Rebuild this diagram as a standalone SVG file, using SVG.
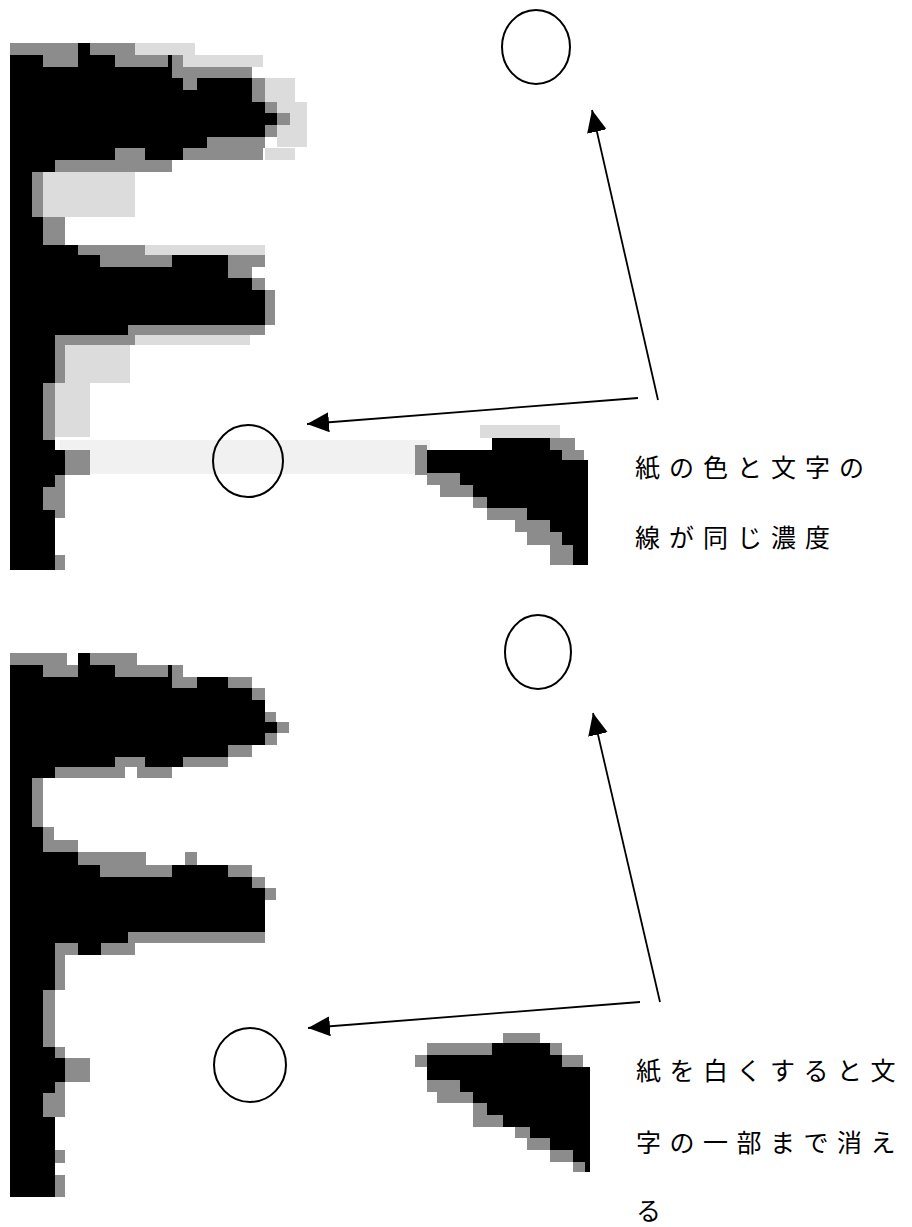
<svg xmlns="http://www.w3.org/2000/svg" width="912" height="1227" viewBox="0 0 912 1227">
<style>
.blk{fill:#000}
.g{fill:#8c8c8c}
.lg{fill:#dcdcdc}
.vl{fill:#f1f1f1}
.circ{fill:none;stroke:#000;stroke-width:2}
.arr{fill:none;stroke:#000;stroke-width:1.8}
.lbl{font-family:"Noto Sans CJK JP","Noto Sans CJK SC",sans-serif;font-size:25px;letter-spacing:9px;fill:#000}
.lbl2{font-family:"Noto Sans CJK JP","Noto Sans CJK SC",sans-serif;font-size:25px;letter-spacing:8.5px;fill:#000}
</style>
<defs>
<marker id="ah" markerUnits="userSpaceOnUse" viewBox="0 0 22 20" refX="22" refY="10" markerWidth="22" markerHeight="20" orient="auto">
<path d="M0,0 L22,10 L0,20 Z" fill="#000"/>
</marker>
</defs>
<rect width="912" height="1227" fill="#fff"/>

<g id="panel-top-letter">
<rect class="vl" x="60" y="440" width="370" height="34"/>
<rect class="lg" x="135" y="43" width="60" height="12"/>
<rect class="lg" x="183" y="55" width="80" height="12"/>
<rect class="lg" x="265" y="78" width="30" height="24"/>
<rect class="lg" x="277" y="102" width="30" height="45"/>
<rect class="lg" x="265" y="148" width="30" height="12"/>
<rect class="lg" x="43" y="172" width="92" height="45"/>
<rect class="lg" x="65" y="345" width="65" height="38"/>
<rect class="lg" x="55" y="383" width="35" height="54"/>
<rect class="lg" x="145" y="245" width="120" height="10"/>
<rect class="lg" x="135" y="335" width="115" height="10"/>
<path class="blk" d="M10,55 H172 V78 H252 V102 H265 V113 H277 V125 H265 V137 H252 V148 H183 V160 H55 V172 H32 V217 H43 V245 H78 V255 H100 V267 H228 V278 H252 V290 H265 V325 H128 V335 H55 V383 H43 V450 H65 V475 H55 V487 H43 V510 H55 V570 H10 Z"/>
<rect class="blk" x="78" y="43" width="12" height="12"/>
<rect class="blk" x="172" y="255" width="56" height="12"/>
<rect class="g" x="10" y="43" width="68" height="12"/>
<rect class="g" x="90" y="43" width="45" height="12"/>
<rect class="g" x="43" y="55" width="35" height="12"/>
<rect class="g" x="115" y="55" width="53" height="12"/>
<rect class="g" x="172" y="55" width="11" height="23"/>
<rect class="g" x="183" y="67" width="69" height="11"/>
<rect class="g" x="183" y="78" width="14" height="12"/>
<rect class="g" x="252" y="78" width="13" height="24"/>
<rect class="g" x="265" y="102" width="12" height="11"/>
<rect class="g" x="277" y="113" width="13" height="12"/>
<rect class="g" x="265" y="125" width="12" height="12"/>
<rect class="g" x="207" y="137" width="58" height="11"/>
<rect class="g" x="115" y="148" width="30" height="12"/>
<rect class="g" x="183" y="148" width="80" height="12"/>
<rect class="g" x="55" y="160" width="117" height="12"/>
<rect class="g" x="32" y="172" width="11" height="45"/>
<rect class="g" x="43" y="217" width="22" height="28"/>
<rect class="g" x="78" y="245" width="67" height="10"/>
<rect class="g" x="100" y="255" width="72" height="12"/>
<rect class="g" x="228" y="255" width="37" height="12"/>
<rect class="g" x="228" y="267" width="24" height="11"/>
<rect class="g" x="252" y="278" width="13" height="12"/>
<rect class="g" x="265" y="290" width="10" height="35"/>
<rect class="g" x="128" y="325" width="137" height="10"/>
<rect class="g" x="55" y="335" width="80" height="10"/>
<rect class="g" x="55" y="345" width="10" height="38"/>
<rect class="g" x="43" y="383" width="12" height="57"/>
<rect class="blk" x="43" y="440" width="12" height="10"/>
<rect class="g" x="65" y="450" width="25" height="25"/>
<rect class="g" x="55" y="475" width="10" height="12"/>
<rect class="g" x="43" y="487" width="22" height="23"/>
<rect class="g" x="55" y="510" width="10" height="8"/>
<rect class="g" x="55" y="555" width="10" height="15"/>
</g>

<g id="panel-top-triangle">
<rect class="lg" x="480" y="425" width="80" height="13"/>
<path class="blk" d="M492,438 H550 V450 H562 V460 H588 V565 H573 V545 H562 V532 H550 V520 H527 V508 H487 V497 H473 V485 H460 V473 H427 V450 H492 Z"/>
<rect class="g" x="550" y="438" width="25" height="12"/>
<rect class="g" x="562" y="450" width="22" height="10"/>
<rect class="g" x="415" y="445" width="12" height="30"/>
<rect class="g" x="427" y="473" width="33" height="12"/>
<rect class="g" x="440" y="485" width="33" height="12"/>
<rect class="g" x="473" y="497" width="14" height="11"/>
<rect class="g" x="487" y="508" width="40" height="12"/>
<rect class="g" x="515" y="520" width="35" height="12"/>
<rect class="g" x="527" y="532" width="35" height="13"/>
<rect class="g" x="550" y="545" width="23" height="20"/>
</g>

<g id="panel-bottom-letter">
<path class="blk" d="M10,665 H172 V677 H172 V688 H252 V700 H265 V722 H277 V733 H265 V745 H252 V757 H228 V767 H55 V778 H32 V827 H43 V852 H78 V865 H228 V877 H252 V888 H265 V932 H128 V943 H55 V990 H43 V1047 H55 V1058 H65 V1082 H55 V1093 H43 V1117 H55 V1197 H10 Z"/>
<rect class="blk" x="78" y="653" width="12" height="12"/>
<rect class="blk" x="197" y="677" width="31" height="11"/>
<rect class="g" x="10" y="653" width="57" height="12"/>
<rect class="g" x="90" y="653" width="47" height="12"/>
<rect class="g" x="43" y="665" width="35" height="12"/>
<rect class="g" x="115" y="665" width="53" height="12"/>
<rect class="g" x="172" y="665" width="11" height="12"/>
<rect class="g" x="172" y="677" width="25" height="11"/>
<rect class="g" x="228" y="677" width="24" height="11"/>
<rect class="g" x="252" y="688" width="13" height="12"/>
<rect class="g" x="265" y="712" width="11" height="10"/>
<rect class="g" x="277" y="722" width="12" height="11"/>
<rect class="g" x="265" y="733" width="12" height="12"/>
<rect class="g" x="228" y="745" width="24" height="12"/>
<rect class="g" x="115" y="757" width="30" height="10"/>
<rect class="g" x="183" y="757" width="45" height="10"/>
<rect class="g" x="55" y="767" width="23" height="11"/>
<rect class="g" x="78" y="767" width="47" height="11"/>
<rect class="g" x="137" y="767" width="35" height="11"/>
<rect class="g" x="32" y="778" width="11" height="49"/>
<rect class="g" x="43" y="827" width="11" height="13"/>
<rect class="g" x="43" y="840" width="22" height="12"/>
<rect class="g" x="65" y="840" width="13" height="12"/>
<rect class="g" x="78" y="852" width="68" height="13"/>
<rect class="g" x="185" y="852" width="12" height="13"/>
<rect class="g" x="100" y="865" width="72" height="12"/>
<rect class="g" x="228" y="865" width="24" height="12"/>
<rect class="g" x="252" y="877" width="13" height="11"/>
<rect class="g" x="265" y="888" width="11" height="12"/>
<rect class="g" x="128" y="932" width="137" height="11"/>
<rect class="g" x="55" y="943" width="80" height="12"/>
<rect class="blk" x="78" y="943" width="23" height="12"/>
<rect class="g" x="55" y="955" width="10" height="35"/>
<rect class="g" x="43" y="990" width="12" height="57"/>
<rect class="g" x="55" y="1047" width="10" height="11"/>
<rect class="g" x="65" y="1058" width="25" height="24"/>
<rect class="g" x="55" y="1082" width="10" height="11"/>
<rect class="g" x="43" y="1093" width="22" height="24"/>
<rect class="g" x="55" y="1150" width="10" height="13"/>
<rect class="g" x="55" y="1175" width="10" height="22"/>
</g>

<g id="panel-bottom-triangle">
<path class="blk" d="M492,1043 H550 V1055 H562 V1067 H590 V1172 H585 V1162 H573 V1150 H550 V1138 H530 V1127 H503 V1115 H487 V1103 H473 V1092 H460 V1080 H427 V1055 H492 Z"/>
<rect class="g" x="503" y="1033" width="37" height="10"/>
<rect class="g" x="427" y="1043" width="65" height="12"/>
<rect class="g" x="550" y="1043" width="12" height="12"/>
<rect class="g" x="562" y="1055" width="21" height="12"/>
<rect class="g" x="415" y="1055" width="12" height="12"/>
<rect class="g" x="427" y="1080" width="33" height="12"/>
<rect class="g" x="437" y="1092" width="36" height="11"/>
<rect class="g" x="473" y="1103" width="14" height="12"/>
<rect class="g" x="473" y="1115" width="30" height="12"/>
<rect class="g" x="515" y="1127" width="15" height="11"/>
<rect class="g" x="527" y="1138" width="23" height="12"/>
<rect class="g" x="550" y="1150" width="23" height="12"/>
<rect class="g" x="573" y="1162" width="12" height="10"/>
</g>

<g id="circle-top-1"><ellipse class="circ" cx="536" cy="47" rx="34" ry="37"/></g>
<g id="circle-top-2"><ellipse class="circ" cx="248" cy="461" rx="35" ry="36"/></g>
<g id="circle-bottom-1"><ellipse class="circ" cx="538" cy="652" rx="33" ry="37"/></g>
<g id="circle-bottom-2"><ellipse class="circ" cx="250" cy="1065" rx="36" ry="37"/></g>

<g id="connectors">
<line class="arr" x1="658" y1="400" x2="592" y2="110" marker-end="url(#ah)"/>
<line class="arr" x1="638" y1="398" x2="307" y2="424" marker-end="url(#ah)"/>
<line class="arr" x1="660" y1="1002" x2="593" y2="713" marker-end="url(#ah)"/>
<line class="arr" x1="640" y1="1002" x2="308" y2="1028" marker-end="url(#ah)"/>
</g>

<g id="label-top">
<text class="lbl" x="635" y="477">紙の色と文字の</text>
<text class="lbl" x="635" y="547">線が同じ濃度</text>
</g>
<g id="label-bottom">
<text class="lbl2" x="636" y="1080">紙を白くすると文</text>
<text class="lbl2" x="636" y="1152">字の一部まで消え</text>
<text class="lbl2" x="636" y="1220">る</text>
</g>
</svg>
